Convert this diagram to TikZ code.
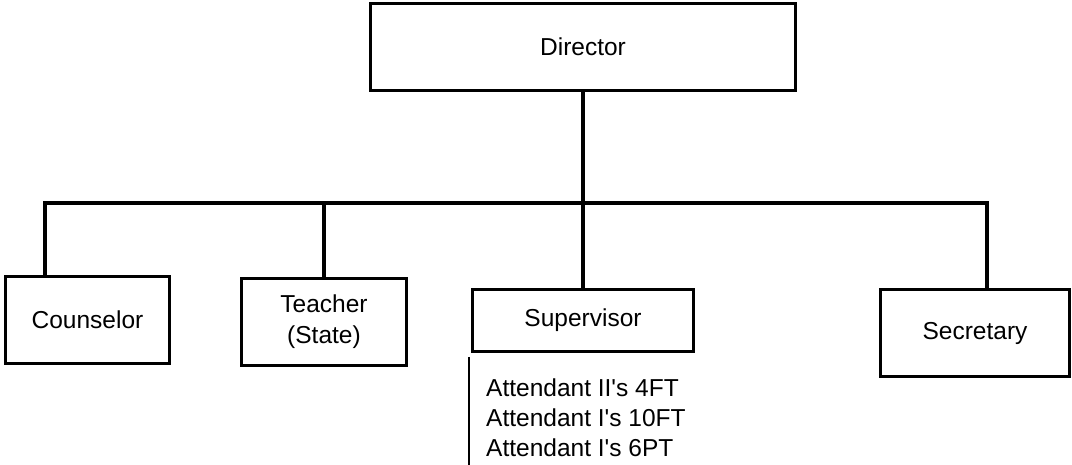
\documentclass[tikz,border=0pt]{standalone}
\usepackage{fontspec}
\setmainfont{Liberation Sans}
\begin{document}
\begin{tikzpicture}[x=1pt,y=-1pt,
  box/.style={draw=black,line width=3.3pt,fill=white,inner sep=0pt,outer sep=0pt,
    align=center,font=\fontsize{24.5}{31}\selectfont},
  conn/.style={draw=black,line width=3.3pt},
  thinline/.style={draw=black,line width=1.2pt},
  attext/.style={anchor=base west,inner sep=0pt,font=\fontsize{24.5}{30}\selectfont}]
\useasboundingbox (0,0) rectangle (1072,465);
\node[box,minimum width=425pt,minimum height=87pt] (dir) at (583,47) {Director};
\node[box,minimum width=164pt,minimum height=87pt] (coun) at (87.5,320) {\raisebox{-2pt}{Counselor}};
\node[box,minimum width=165pt,minimum height=87pt] (teach) at (324,322) {Teacher\\(State)};
\node[box,minimum width=221pt,minimum height=62pt] (sup) at (583,320.5) {\raisebox{-2pt}{Supervisor}};
\node[box,minimum width=189.5pt,minimum height=87pt] (sec) at (975,333) {\raisebox{-2pt}{Secretary}};
\coordinate (busL) at (45,203);
\coordinate (busR) at (987,203);
\coordinate (attTop) at (469,357);
\coordinate (attBot) at (469,465);
\draw[conn] (coun.north -| busL) -- (busL) -- (busR) -- (busR |- sec.north);
\draw[conn] (teach.north) -- (teach.north |- busL);
\draw[conn] (dir.south) -- (sup.north);
\draw[thinline] (attTop) -- (attBot);
\node[attext] (att1) at (486,396) {Attendant II\textquotesingle s 4FT};
\node[attext] (att2) at (486,426) {Attendant I\textquotesingle s 10FT};
\node[attext] (att3) at (486,456) {Attendant I\textquotesingle s 6PT};
\end{tikzpicture}
\end{document}
